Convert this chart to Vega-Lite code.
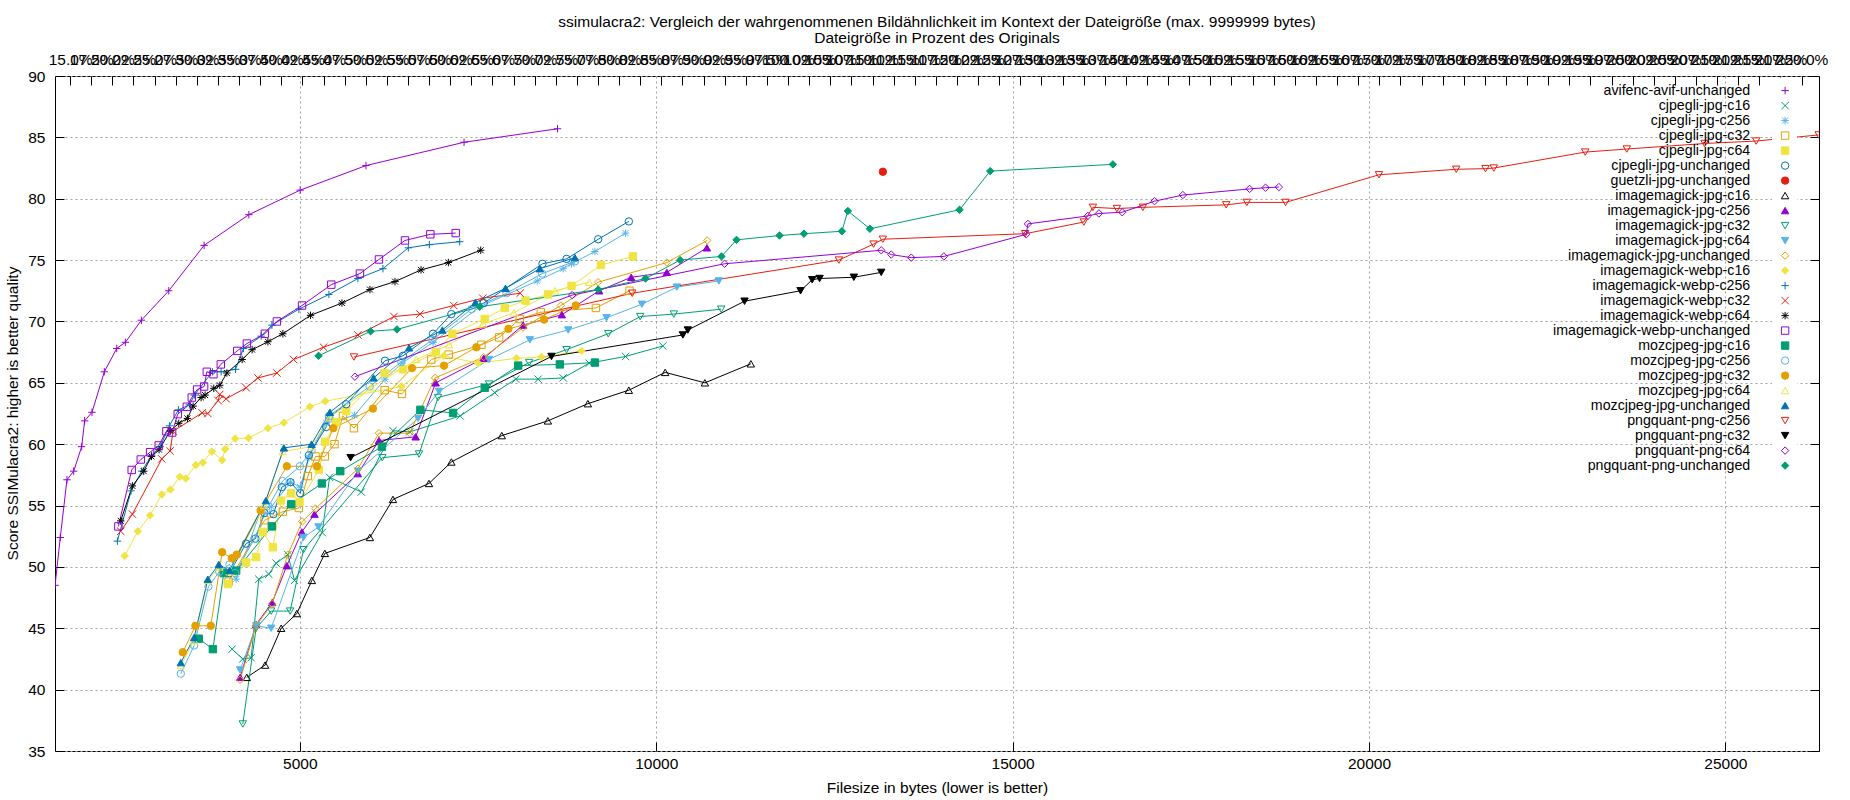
{
  "$schema": "https://vega.github.io/schema/vega-lite/v6.json",
  "width": 1764,
  "height": 675,
  "autosize": {"type": "none"},
  "padding": {"left": 55, "top": 76, "right": 31, "bottom": 49},
  "background": "white",
  "title": {
    "text": "ssimulacra2: Vergleich der wahrgenommenen Bildähnlichkeit im Kontext der Dateigröße (max. 9999999 bytes)",
    "subtitle": "Dateigröße in Prozent des Originals",
    "font": "Liberation Sans", "fontSize": 15.5, "fontWeight": "normal", "color": "black",
    "subtitleFont": "Liberation Sans", "subtitleFontSize": 15.5, "subtitleColor": "black", "subtitlePadding": 0,
    "anchor": "middle", "offset": 6
  },
  "config": {
    "font": "Liberation Sans",
    "view": {"stroke": "black", "strokeWidth": 1},
    "axis": {
      "labelFont": "Liberation Sans", "labelFontSize": 15.5, "labelColor": "black",
      "titleFont": "Liberation Sans", "titleFontSize": 15.5, "titleColor": "black", "titleFontWeight": "normal",
      "domain": false, "tickColor": "black", "tickSize": -9, "tickWidth": 1,
      "gridColor": "#a0a0a0", "gridDash": [2, 3], "gridWidth": 1
    },
    "legend": {
      "labelFont": "Liberation Sans", "labelFontSize": 14.2, "labelColor": "black", "labelLimit": 400,
      "orient": "none", "legendX": 1717, "legendY": 1.5, "title": null, "padding": 6, "fillColor": "white",
      "rowPadding": 0, "symbolSize": 55, "symbolStrokeWidth": 1, "labelAlign": "right", "labelOffset": -42
    }
  },
  "data": {"values": [
    {"s":"avifenc-avif-unchanged","x":1566,"y":48.5},{"s":"avifenc-avif-unchanged","x":1639,"y":52.4},{"s":"avifenc-avif-unchanged","x":1733,"y":57.1},{"s":"avifenc-avif-unchanged","x":1827,"y":57.8},{"s":"avifenc-avif-unchanged","x":1939,"y":59.8},{"s":"avifenc-avif-unchanged","x":1981,"y":61.9},{"s":"avifenc-avif-unchanged","x":2084,"y":62.6},{"s":"avifenc-avif-unchanged","x":2257,"y":65.9},{"s":"avifenc-avif-unchanged","x":2431,"y":67.8},{"s":"avifenc-avif-unchanged","x":2552,"y":68.3},{"s":"avifenc-avif-unchanged","x":2777,"y":70.1},{"s":"avifenc-avif-unchanged","x":3161,"y":72.5},{"s":"avifenc-avif-unchanged","x":3657,"y":76.2},{"s":"avifenc-avif-unchanged","x":4285,"y":78.7},{"s":"avifenc-avif-unchanged","x":5005,"y":80.7},{"s":"avifenc-avif-unchanged","x":5928,"y":82.7},{"s":"avifenc-avif-unchanged","x":7304,"y":84.6},{"s":"avifenc-avif-unchanged","x":8615,"y":85.7},
    {"s":"cjpegli-jpg-c16","x":4050,"y":43.3},{"s":"cjpegli-jpg-c16","x":4200,"y":42.5},{"s":"cjpegli-jpg-c16","x":4317,"y":42.6},{"s":"cjpegli-jpg-c16","x":4424,"y":49.0},{"s":"cjpegli-jpg-c16","x":4565,"y":49.4},{"s":"cjpegli-jpg-c16","x":4668,"y":50.3},{"s":"cjpegli-jpg-c16","x":4832,"y":51.0},{"s":"cjpegli-jpg-c16","x":4925,"y":48.9},{"s":"cjpegli-jpg-c16","x":5314,"y":52.8},{"s":"cjpegli-jpg-c16","x":5417,"y":57.3},{"s":"cjpegli-jpg-c16","x":5862,"y":56.1},{"s":"cjpegli-jpg-c16","x":6307,"y":61.1},{"s":"cjpegli-jpg-c16","x":6541,"y":61.0},{"s":"cjpegli-jpg-c16","x":7250,"y":62.3},{"s":"cjpegli-jpg-c16","x":7735,"y":64.2},{"s":"cjpegli-jpg-c16","x":8030,"y":65.3},{"s":"cjpegli-jpg-c16","x":8344,"y":65.3},{"s":"cjpegli-jpg-c16","x":8695,"y":65.4},{"s":"cjpegli-jpg-c16","x":9060,"y":66.6},{"s":"cjpegli-jpg-c16","x":9570,"y":67.15},{"s":"cjpegli-jpg-c16","x":10093,"y":68.0},
    {"s":"cjpegli-jpg-c256","x":4106,"y":49.0},{"s":"cjpegli-jpg-c256","x":4457,"y":54.7},{"s":"cjpegli-jpg-c256","x":4600,"y":54.9},{"s":"cjpegli-jpg-c256","x":4869,"y":56.9},{"s":"cjpegli-jpg-c256","x":5005,"y":56.5},{"s":"cjpegli-jpg-c256","x":5127,"y":58.9},{"s":"cjpegli-jpg-c256","x":5370,"y":61.7},{"s":"cjpegli-jpg-c256","x":5768,"y":62.35},{"s":"cjpegli-jpg-c256","x":6195,"y":65.3},{"s":"cjpegli-jpg-c256","x":6433,"y":66.6},{"s":"cjpegli-jpg-c256","x":6869,"y":68.3},{"s":"cjpegli-jpg-c256","x":7524,"y":71.2},{"s":"cjpegli-jpg-c256","x":8330,"y":73.3},{"s":"cjpegli-jpg-c256","x":8695,"y":74.3},{"s":"cjpegli-jpg-c256","x":8812,"y":74.7},{"s":"cjpegli-jpg-c256","x":9140,"y":75.7},{"s":"cjpegli-jpg-c256","x":9570,"y":77.2},
    {"s":"cjpegli-jpg-c32","x":4000,"y":48.8},{"s":"cjpegli-jpg-c32","x":4504,"y":53.8},{"s":"cjpegli-jpg-c32","x":4761,"y":54.5},{"s":"cjpegli-jpg-c32","x":4986,"y":54.8},{"s":"cjpegli-jpg-c32","x":5113,"y":57.4},{"s":"cjpegli-jpg-c32","x":5220,"y":59.0},{"s":"cjpegli-jpg-c32","x":5351,"y":59.0},{"s":"cjpegli-jpg-c32","x":5487,"y":60.0},{"s":"cjpegli-jpg-c32","x":5605,"y":62.3},{"s":"cjpegli-jpg-c32","x":5759,"y":61.3},{"s":"cjpegli-jpg-c32","x":6190,"y":64.4},{"s":"cjpegli-jpg-c32","x":6433,"y":64.1},{"s":"cjpegli-jpg-c32","x":6845,"y":66.9},{"s":"cjpegli-jpg-c32","x":7089,"y":67.3},{"s":"cjpegli-jpg-c32","x":7548,"y":68.1},{"s":"cjpegli-jpg-c32","x":7796,"y":68.7},{"s":"cjpegli-jpg-c32","x":8086,"y":70.2},{"s":"cjpegli-jpg-c32","x":8381,"y":70.75},{"s":"cjpegli-jpg-c32","x":9154,"y":71.1},{"s":"cjpegli-jpg-c32","x":9626,"y":72.5},
    {"s":"cjpegli-jpg-c64","x":3990,"y":48.6},{"s":"cjpegli-jpg-c64","x":4246,"y":50.35},{"s":"cjpegli-jpg-c64","x":4387,"y":50.8},{"s":"cjpegli-jpg-c64","x":4480,"y":52.85},{"s":"cjpegli-jpg-c64","x":4621,"y":51.6},{"s":"cjpegli-jpg-c64","x":4738,"y":55.4},{"s":"cjpegli-jpg-c64","x":4879,"y":56.0},{"s":"cjpegli-jpg-c64","x":4996,"y":55.3},{"s":"cjpegli-jpg-c64","x":5267,"y":57.9},{"s":"cjpegli-jpg-c64","x":5356,"y":60.2},{"s":"cjpegli-jpg-c64","x":5511,"y":61.8},{"s":"cjpegli-jpg-c64","x":5651,"y":62.7},{"s":"cjpegli-jpg-c64","x":6190,"y":65.8},{"s":"cjpegli-jpg-c64","x":6447,"y":66.1},{"s":"cjpegli-jpg-c64","x":6906,"y":67.5},{"s":"cjpegli-jpg-c64","x":7140,"y":69.0},{"s":"cjpegli-jpg-c64","x":7594,"y":70.2},{"s":"cjpegli-jpg-c64","x":7875,"y":71.1},{"s":"cjpegli-jpg-c64","x":8166,"y":71.7},{"s":"cjpegli-jpg-c64","x":8484,"y":72.2},{"s":"cjpegli-jpg-c64","x":8812,"y":72.9},{"s":"cjpegli-jpg-c64","x":9224,"y":74.6},{"s":"cjpegli-jpg-c64","x":9672,"y":75.3},
    {"s":"cjpegli-jpg-unchanged","x":4012,"y":49.5},{"s":"cjpegli-jpg-unchanged","x":4246,"y":51.9},{"s":"cjpegli-jpg-unchanged","x":4377,"y":52.3},{"s":"cjpegli-jpg-unchanged","x":4504,"y":54.4},{"s":"cjpegli-jpg-unchanged","x":4630,"y":54.3},{"s":"cjpegli-jpg-unchanged","x":4747,"y":56.5},{"s":"cjpegli-jpg-unchanged","x":4869,"y":56.9},{"s":"cjpegli-jpg-unchanged","x":5005,"y":56.0},{"s":"cjpegli-jpg-unchanged","x":5127,"y":59.1},{"s":"cjpegli-jpg-unchanged","x":5370,"y":61.4},{"s":"cjpegli-jpg-unchanged","x":5412,"y":62.2},{"s":"cjpegli-jpg-unchanged","x":5651,"y":63.25},{"s":"cjpegli-jpg-unchanged","x":6195,"y":66.8},{"s":"cjpegli-jpg-unchanged","x":6447,"y":67.2},{"s":"cjpegli-jpg-unchanged","x":6869,"y":69.0},{"s":"cjpegli-jpg-unchanged","x":7126,"y":70.6},{"s":"cjpegli-jpg-unchanged","x":7580,"y":71.5},{"s":"cjpegli-jpg-unchanged","x":8404,"y":74.7},{"s":"cjpegli-jpg-unchanged","x":8742,"y":75.1},{"s":"cjpegli-jpg-unchanged","x":9186,"y":76.7},{"s":"cjpegli-jpg-unchanged","x":9616,"y":78.15},
    {"s":"guetzli-jpg-unchanged","x":13180,"y":82.2},
    {"s":"imagemagick-jpg-c16","x":4256,"y":41.0},{"s":"imagemagick-jpg-c16","x":4513,"y":42.0},{"s":"imagemagick-jpg-c16","x":4738,"y":45.0},{"s":"imagemagick-jpg-c16","x":4958,"y":46.2},{"s":"imagemagick-jpg-c16","x":5169,"y":48.9},{"s":"imagemagick-jpg-c16","x":5351,"y":51.1},{"s":"imagemagick-jpg-c16","x":5983,"y":52.4},{"s":"imagemagick-jpg-c16","x":6307,"y":55.5},{"s":"imagemagick-jpg-c16","x":6812,"y":56.8},{"s":"imagemagick-jpg-c16","x":7126,"y":58.55},{"s":"imagemagick-jpg-c16","x":7834,"y":60.7},{"s":"imagemagick-jpg-c16","x":8480,"y":61.9},{"s":"imagemagick-jpg-c16","x":9041,"y":63.3},{"s":"imagemagick-jpg-c16","x":9616,"y":64.4},{"s":"imagemagick-jpg-c16","x":10126,"y":65.85},{"s":"imagemagick-jpg-c16","x":10683,"y":65.0},{"s":"imagemagick-jpg-c16","x":11328,"y":66.55},
    {"s":"imagemagick-jpg-c256","x":4162,"y":41.0},{"s":"imagemagick-jpg-c256","x":4387,"y":45.3},{"s":"imagemagick-jpg-c256","x":4612,"y":47.1},{"s":"imagemagick-jpg-c256","x":4818,"y":50.1},{"s":"imagemagick-jpg-c256","x":5028,"y":52.85},{"s":"imagemagick-jpg-c256","x":5206,"y":54.3},{"s":"imagemagick-jpg-c256","x":5815,"y":57.6},{"s":"imagemagick-jpg-c256","x":6110,"y":60.3},{"s":"imagemagick-jpg-c256","x":6625,"y":60.6},{"s":"imagemagick-jpg-c256","x":6906,"y":65.0},{"s":"imagemagick-jpg-c256","x":7580,"y":67.0},{"s":"imagemagick-jpg-c256","x":8133,"y":69.7},{"s":"imagemagick-jpg-c256","x":8676,"y":70.55},{"s":"imagemagick-jpg-c256","x":9200,"y":72.5},{"s":"imagemagick-jpg-c256","x":9649,"y":73.6},{"s":"imagemagick-jpg-c256","x":10149,"y":74.0},{"s":"imagemagick-jpg-c256","x":10711,"y":76.0},
    {"s":"imagemagick-jpg-c32","x":4200,"y":37.2},{"s":"imagemagick-jpg-c32","x":4387,"y":45.0},{"s":"imagemagick-jpg-c32","x":4598,"y":46.4},{"s":"imagemagick-jpg-c32","x":4864,"y":46.4},{"s":"imagemagick-jpg-c32","x":5052,"y":51.4},{"s":"imagemagick-jpg-c32","x":6157,"y":58.9},{"s":"imagemagick-jpg-c32","x":6672,"y":59.2},{"s":"imagemagick-jpg-c32","x":6939,"y":63.8},{"s":"imagemagick-jpg-c32","x":7655,"y":64.9},{"s":"imagemagick-jpg-c32","x":8217,"y":66.65},{"s":"imagemagick-jpg-c32","x":8742,"y":67.7},{"s":"imagemagick-jpg-c32","x":9327,"y":69.0},{"s":"imagemagick-jpg-c32","x":9775,"y":70.4},{"s":"imagemagick-jpg-c32","x":10247,"y":70.6},{"s":"imagemagick-jpg-c32","x":10912,"y":71.0},
    {"s":"imagemagick-jpg-c64","x":4162,"y":41.6},{"s":"imagemagick-jpg-c64","x":4387,"y":45.2},{"s":"imagemagick-jpg-c64","x":4598,"y":45.0},{"s":"imagemagick-jpg-c64","x":5052,"y":52.4},{"s":"imagemagick-jpg-c64","x":5262,"y":53.25},{"s":"imagemagick-jpg-c64","x":5815,"y":57.8},{"s":"imagemagick-jpg-c64","x":6658,"y":62.1},{"s":"imagemagick-jpg-c64","x":6953,"y":64.3},{"s":"imagemagick-jpg-c64","x":7655,"y":66.9},{"s":"imagemagick-jpg-c64","x":8227,"y":68.5},{"s":"imagemagick-jpg-c64","x":8765,"y":69.3},{"s":"imagemagick-jpg-c64","x":9303,"y":70.3},{"s":"imagemagick-jpg-c64","x":9799,"y":71.4},{"s":"imagemagick-jpg-c64","x":10290,"y":72.8},{"s":"imagemagick-jpg-c64","x":10879,"y":73.3},
    {"s":"imagemagick-jpg-unchanged","x":4162,"y":40.8},{"s":"imagemagick-jpg-unchanged","x":4387,"y":45.2},{"s":"imagemagick-jpg-unchanged","x":4612,"y":47.0},{"s":"imagemagick-jpg-unchanged","x":4832,"y":51.0},{"s":"imagemagick-jpg-unchanged","x":5033,"y":53.7},{"s":"imagemagick-jpg-unchanged","x":5220,"y":54.75},{"s":"imagemagick-jpg-unchanged","x":5815,"y":58.0},{"s":"imagemagick-jpg-unchanged","x":6110,"y":60.9},{"s":"imagemagick-jpg-unchanged","x":6541,"y":60.9},{"s":"imagemagick-jpg-unchanged","x":6897,"y":65.4},{"s":"imagemagick-jpg-unchanged","x":7580,"y":67.1},{"s":"imagemagick-jpg-unchanged","x":8133,"y":69.5},{"s":"imagemagick-jpg-unchanged","x":8662,"y":71.3},{"s":"imagemagick-jpg-unchanged","x":9186,"y":73.2},{"s":"imagemagick-jpg-unchanged","x":10149,"y":74.8},{"s":"imagemagick-jpg-unchanged","x":10715,"y":76.6},
    {"s":"imagemagick-webp-c16","x":2543,"y":50.9},{"s":"imagemagick-webp-c16","x":2726,"y":52.9},{"s":"imagemagick-webp-c16","x":2899,"y":54.2},{"s":"imagemagick-webp-c16","x":3063,"y":55.9},{"s":"imagemagick-webp-c16","x":3184,"y":56.3},{"s":"imagemagick-webp-c16","x":3316,"y":57.35},{"s":"imagemagick-webp-c16","x":3400,"y":57.2},{"s":"imagemagick-webp-c16","x":3540,"y":58.3},{"s":"imagemagick-webp-c16","x":3638,"y":58.5},{"s":"imagemagick-webp-c16","x":3765,"y":59.4},{"s":"imagemagick-webp-c16","x":3910,"y":58.7},{"s":"imagemagick-webp-c16","x":3952,"y":59.6},{"s":"imagemagick-webp-c16","x":4093,"y":60.45},{"s":"imagemagick-webp-c16","x":4280,"y":60.5},{"s":"imagemagick-webp-c16","x":4552,"y":61.3},{"s":"imagemagick-webp-c16","x":4776,"y":61.75},{"s":"imagemagick-webp-c16","x":5142,"y":63.05},{"s":"imagemagick-webp-c16","x":5357,"y":63.5},{"s":"imagemagick-webp-c16","x":6424,"y":64.7},{"s":"imagemagick-webp-c16","x":7019,"y":67.2},{"s":"imagemagick-webp-c16","x":7501,"y":66.6},{"s":"imagemagick-webp-c16","x":8039,"y":67.0},{"s":"imagemagick-webp-c16","x":8390,"y":67.1},{"s":"imagemagick-webp-c16","x":8952,"y":67.6},
    {"s":"imagemagick-webp-c256","x":2440,"y":52.1},{"s":"imagemagick-webp-c256","x":2632,"y":56.2},{"s":"imagemagick-webp-c256","x":2782,"y":57.8},{"s":"imagemagick-webp-c256","x":2922,"y":59.1},{"s":"imagemagick-webp-c256","x":3040,"y":59.8},{"s":"imagemagick-webp-c256","x":3170,"y":61.5},{"s":"imagemagick-webp-c256","x":3297,"y":62.8},{"s":"imagemagick-webp-c256","x":3451,"y":63.2},{"s":"imagemagick-webp-c256","x":3520,"y":64.0},{"s":"imagemagick-webp-c256","x":3774,"y":65.9},{"s":"imagemagick-webp-c256","x":3896,"y":65.9},{"s":"imagemagick-webp-c256","x":4097,"y":66.1},{"s":"imagemagick-webp-c256","x":4210,"y":67.8},{"s":"imagemagick-webp-c256","x":4458,"y":68.8},{"s":"imagemagick-webp-c256","x":4608,"y":69.7},{"s":"imagemagick-webp-c256","x":4987,"y":71.0},{"s":"imagemagick-webp-c256","x":5408,"y":72.2},{"s":"imagemagick-webp-c256","x":5815,"y":73.5},{"s":"imagemagick-webp-c256","x":6166,"y":74.3},{"s":"imagemagick-webp-c256","x":6522,"y":76.0},{"s":"imagemagick-webp-c256","x":6817,"y":76.26},{"s":"imagemagick-webp-c256","x":7243,"y":76.5},
    {"s":"imagemagick-webp-c32","x":2487,"y":52.9},{"s":"imagemagick-webp-c32","x":2651,"y":54.3},{"s":"imagemagick-webp-c32","x":3063,"y":58.8},{"s":"imagemagick-webp-c32","x":3180,"y":59.45},{"s":"imagemagick-webp-c32","x":3222,"y":61.05},{"s":"imagemagick-webp-c32","x":3629,"y":62.55},{"s":"imagemagick-webp-c32","x":3709,"y":62.5},{"s":"imagemagick-webp-c32","x":3854,"y":63.55},{"s":"imagemagick-webp-c32","x":3877,"y":64.05},{"s":"imagemagick-webp-c32","x":3966,"y":63.7},{"s":"imagemagick-webp-c32","x":4247,"y":64.6},{"s":"imagemagick-webp-c32","x":4411,"y":65.4},{"s":"imagemagick-webp-c32","x":4678,"y":65.8},{"s":"imagemagick-webp-c32","x":4912,"y":66.9},{"s":"imagemagick-webp-c32","x":5333,"y":67.9},{"s":"imagemagick-webp-c32","x":5815,"y":68.9},{"s":"imagemagick-webp-c32","x":6321,"y":70.4},{"s":"imagemagick-webp-c32","x":6686,"y":70.6},{"s":"imagemagick-webp-c32","x":7159,"y":71.3},{"s":"imagemagick-webp-c32","x":7566,"y":71.9},{"s":"imagemagick-webp-c32","x":8091,"y":72.3},
    {"s":"imagemagick-webp-c64","x":2487,"y":53.75},{"s":"imagemagick-webp-c64","x":2651,"y":56.6},{"s":"imagemagick-webp-c64","x":2810,"y":57.8},{"s":"imagemagick-webp-c64","x":2918,"y":59.0},{"s":"imagemagick-webp-c64","x":3025,"y":59.55},{"s":"imagemagick-webp-c64","x":3184,"y":61.1},{"s":"imagemagick-webp-c64","x":3301,"y":61.7},{"s":"imagemagick-webp-c64","x":3423,"y":62.1},{"s":"imagemagick-webp-c64","x":3503,"y":63.1},{"s":"imagemagick-webp-c64","x":3615,"y":63.8},{"s":"imagemagick-webp-c64","x":3671,"y":64.0},{"s":"imagemagick-webp-c64","x":3793,"y":64.55},{"s":"imagemagick-webp-c64","x":3877,"y":64.8},{"s":"imagemagick-webp-c64","x":3976,"y":65.8},{"s":"imagemagick-webp-c64","x":4191,"y":66.9},{"s":"imagemagick-webp-c64","x":4331,"y":67.7},{"s":"imagemagick-webp-c64","x":4552,"y":68.35},{"s":"imagemagick-webp-c64","x":4762,"y":69.0},{"s":"imagemagick-webp-c64","x":5150,"y":70.5},{"s":"imagemagick-webp-c64","x":5591,"y":71.5},{"s":"imagemagick-webp-c64","x":5984,"y":72.6},{"s":"imagemagick-webp-c64","x":6335,"y":73.25},{"s":"imagemagick-webp-c64","x":6700,"y":74.2},{"s":"imagemagick-webp-c64","x":7084,"y":74.8},{"s":"imagemagick-webp-c64","x":7538,"y":75.8},
    {"s":"imagemagick-webp-unchanged","x":2454,"y":53.3},{"s":"imagemagick-webp-unchanged","x":2641,"y":57.9},{"s":"imagemagick-webp-unchanged","x":2768,"y":58.75},{"s":"imagemagick-webp-unchanged","x":2899,"y":59.35},{"s":"imagemagick-webp-unchanged","x":3020,"y":59.9},{"s":"imagemagick-webp-unchanged","x":3128,"y":61.05},{"s":"imagemagick-webp-unchanged","x":3208,"y":60.95},{"s":"imagemagick-webp-unchanged","x":3287,"y":62.45},{"s":"imagemagick-webp-unchanged","x":3414,"y":63.05},{"s":"imagemagick-webp-unchanged","x":3484,"y":63.8},{"s":"imagemagick-webp-unchanged","x":3559,"y":64.45},{"s":"imagemagick-webp-unchanged","x":3657,"y":64.7},{"s":"imagemagick-webp-unchanged","x":3695,"y":65.9},{"s":"imagemagick-webp-unchanged","x":3788,"y":65.7},{"s":"imagemagick-webp-unchanged","x":3891,"y":66.5},{"s":"imagemagick-webp-unchanged","x":4121,"y":67.6},{"s":"imagemagick-webp-unchanged","x":4257,"y":68.2},{"s":"imagemagick-webp-unchanged","x":4509,"y":69.0},{"s":"imagemagick-webp-unchanged","x":4678,"y":70.0},{"s":"imagemagick-webp-unchanged","x":5031,"y":71.3},{"s":"imagemagick-webp-unchanged","x":5441,"y":73.0},{"s":"imagemagick-webp-unchanged","x":5843,"y":73.9},{"s":"imagemagick-webp-unchanged","x":6110,"y":75.05},{"s":"imagemagick-webp-unchanged","x":6475,"y":76.6},{"s":"imagemagick-webp-unchanged","x":6831,"y":77.1},{"s":"imagemagick-webp-unchanged","x":7187,"y":77.2},
    {"s":"mozcjpeg-jpg-c16","x":3582,"y":44.15},{"s":"mozcjpeg-jpg-c16","x":3780,"y":43.3},{"s":"mozcjpeg-jpg-c16","x":3933,"y":49.5},{"s":"mozcjpeg-jpg-c16","x":4107,"y":49.7},{"s":"mozcjpeg-jpg-c16","x":4607,"y":53.3},{"s":"mozcjpeg-jpg-c16","x":4879,"y":55.1},{"s":"mozcjpeg-jpg-c16","x":5309,"y":56.8},{"s":"mozcjpeg-jpg-c16","x":5567,"y":57.8},{"s":"mozcjpeg-jpg-c16","x":6152,"y":59.8},{"s":"mozcjpeg-jpg-c16","x":6691,"y":62.8},{"s":"mozcjpeg-jpg-c16","x":7150,"y":62.55},{"s":"mozcjpeg-jpg-c16","x":7595,"y":64.6},{"s":"mozcjpeg-jpg-c16","x":8063,"y":66.4},{"s":"mozcjpeg-jpg-c16","x":8648,"y":66.5},{"s":"mozcjpeg-jpg-c16","x":9140,"y":66.65},
    {"s":"mozcjpeg-jpg-c256","x":3330,"y":41.3},{"s":"mozcjpeg-jpg-c256","x":3517,"y":43.6},{"s":"mozcjpeg-jpg-c256","x":3718,"y":48.4},{"s":"mozcjpeg-jpg-c256","x":3870,"y":49.6},{"s":"mozcjpeg-jpg-c256","x":4013,"y":50.2},{"s":"mozcjpeg-jpg-c256","x":4093,"y":49.5},{"s":"mozcjpeg-jpg-c256","x":4364,"y":52.3},{"s":"mozcjpeg-jpg-c256","x":4530,"y":54.6},{"s":"mozcjpeg-jpg-c256","x":4760,"y":57.0},{"s":"mozcjpeg-jpg-c256","x":5000,"y":58.2},{"s":"mozcjpeg-jpg-c256","x":5165,"y":59.5},{"s":"mozcjpeg-jpg-c256","x":5408,"y":62.3},{"s":"mozcjpeg-jpg-c256","x":5979,"y":64.7},{"s":"mozcjpeg-jpg-c256","x":6424,"y":66.7},{"s":"mozcjpeg-jpg-c256","x":6859,"y":68.5},{"s":"mozcjpeg-jpg-c256","x":7407,"y":71.0},{"s":"mozcjpeg-jpg-c256","x":7900,"y":72.3},{"s":"mozcjpeg-jpg-c256","x":8400,"y":73.9},{"s":"mozcjpeg-jpg-c256","x":8860,"y":74.9},
    {"s":"mozcjpeg-jpg-c32","x":3358,"y":43.05},{"s":"mozcjpeg-jpg-c32","x":3535,"y":45.2},{"s":"mozcjpeg-jpg-c32","x":3751,"y":45.2},{"s":"mozcjpeg-jpg-c32","x":3910,"y":51.2},{"s":"mozcjpeg-jpg-c32","x":4045,"y":50.7},{"s":"mozcjpeg-jpg-c32","x":4115,"y":51.0},{"s":"mozcjpeg-jpg-c32","x":4450,"y":54.6},{"s":"mozcjpeg-jpg-c32","x":4818,"y":58.2},{"s":"mozcjpeg-jpg-c32","x":5240,"y":58.2},{"s":"mozcjpeg-jpg-c32","x":5469,"y":61.3},{"s":"mozcjpeg-jpg-c32","x":6026,"y":62.9},{"s":"mozcjpeg-jpg-c32","x":6574,"y":66.2},{"s":"mozcjpeg-jpg-c32","x":7023,"y":66.4},{"s":"mozcjpeg-jpg-c32","x":7477,"y":67.9},{"s":"mozcjpeg-jpg-c32","x":7927,"y":69.4},{"s":"mozcjpeg-jpg-c32","x":8428,"y":70.15},{"s":"mozcjpeg-jpg-c32","x":8872,"y":71.3},
    {"s":"mozcjpeg-jpg-c64","x":3333,"y":42.0},{"s":"mozcjpeg-jpg-c64","x":3517,"y":44.0},{"s":"mozcjpeg-jpg-c64","x":3709,"y":48.9},{"s":"mozcjpeg-jpg-c64","x":3870,"y":50.0},{"s":"mozcjpeg-jpg-c64","x":4013,"y":49.6},{"s":"mozcjpeg-jpg-c64","x":4500,"y":55.0},{"s":"mozcjpeg-jpg-c64","x":4760,"y":59.4},{"s":"mozcjpeg-jpg-c64","x":5165,"y":59.8},{"s":"mozcjpeg-jpg-c64","x":5420,"y":62.2},{"s":"mozcjpeg-jpg-c64","x":6000,"y":64.6},{"s":"mozcjpeg-jpg-c64","x":6635,"y":66.9},{"s":"mozcjpeg-jpg-c64","x":7093,"y":68.1},{"s":"mozcjpeg-jpg-c64","x":7571,"y":69.8},{"s":"mozcjpeg-jpg-c64","x":8002,"y":70.7},{"s":"mozcjpeg-jpg-c64","x":8578,"y":72.5},{"s":"mozcjpeg-jpg-c64","x":9060,"y":73.2},
    {"s":"mozcjpeg-jpg-unchanged","x":3330,"y":42.2},{"s":"mozcjpeg-jpg-unchanged","x":3517,"y":44.25},{"s":"mozcjpeg-jpg-unchanged","x":3709,"y":49.0},{"s":"mozcjpeg-jpg-unchanged","x":3863,"y":50.2},{"s":"mozcjpeg-jpg-unchanged","x":4013,"y":49.7},{"s":"mozcjpeg-jpg-unchanged","x":4523,"y":55.4},{"s":"mozcjpeg-jpg-unchanged","x":4776,"y":59.7},{"s":"mozcjpeg-jpg-unchanged","x":5165,"y":60.0},{"s":"mozcjpeg-jpg-unchanged","x":5422,"y":62.6},{"s":"mozcjpeg-jpg-unchanged","x":6035,"y":65.4},{"s":"mozcjpeg-jpg-unchanged","x":6532,"y":67.85},{"s":"mozcjpeg-jpg-unchanged","x":7000,"y":69.3},{"s":"mozcjpeg-jpg-unchanged","x":7463,"y":71.55},{"s":"mozcjpeg-jpg-unchanged","x":7885,"y":72.7},{"s":"mozcjpeg-jpg-unchanged","x":8367,"y":74.3},{"s":"mozcjpeg-jpg-unchanged","x":8859,"y":75.2},
    {"s":"pngquant-png-c256","x":5759,"y":67.1},{"s":"pngquant-png-c256","x":9663,"y":72.3},{"s":"pngquant-png-c256","x":12563,"y":75.0},{"s":"pngquant-png-c256","x":13049,"y":76.3},{"s":"pngquant-png-c256","x":13180,"y":76.7},{"s":"pngquant-png-c256","x":15177,"y":77.15},{"s":"pngquant-png-c256","x":16000,"y":78.1},{"s":"pngquant-png-c256","x":16127,"y":79.3},{"s":"pngquant-png-c256","x":16463,"y":79.2},{"s":"pngquant-png-c256","x":16828,"y":79.3},{"s":"pngquant-png-c256","x":17997,"y":79.5},{"s":"pngquant-png-c256","x":18287,"y":79.7},{"s":"pngquant-png-c256","x":18830,"y":79.7},{"s":"pngquant-png-c256","x":20140,"y":81.95},{"s":"pngquant-png-c256","x":21224,"y":82.4},{"s":"pngquant-png-c256","x":21635,"y":82.45},{"s":"pngquant-png-c256","x":21752,"y":82.5},{"s":"pngquant-png-c256","x":23034,"y":83.8},{"s":"pngquant-png-c256","x":23618,"y":84.05},{"s":"pngquant-png-c256","x":24708,"y":84.5},{"s":"pngquant-png-c256","x":25433,"y":84.7},{"s":"pngquant-png-c256","x":26310,"y":85.2},
    {"s":"pngquant-png-c32","x":5712,"y":58.9},{"s":"pngquant-png-c32","x":8531,"y":67.15},{"s":"pngquant-png-c32","x":10374,"y":68.9},{"s":"pngquant-png-c32","x":10444,"y":69.3},{"s":"pngquant-png-c32","x":11239,"y":71.65},{"s":"pngquant-png-c32","x":12025,"y":72.5},{"s":"pngquant-png-c32","x":12189,"y":73.4},{"s":"pngquant-png-c32","x":12292,"y":73.5},{"s":"pngquant-png-c32","x":12773,"y":73.6},{"s":"pngquant-png-c32","x":13157,"y":74.0},
    {"s":"pngquant-png-c64","x":5773,"y":65.5},{"s":"pngquant-png-c64","x":8821,"y":72.15},{"s":"pngquant-png-c64","x":10959,"y":74.7},{"s":"pngquant-png-c64","x":13157,"y":75.8},{"s":"pngquant-png-c64","x":13297,"y":75.45},{"s":"pngquant-png-c64","x":13578,"y":75.2},{"s":"pngquant-png-c64","x":14036,"y":75.3},{"s":"pngquant-png-c64","x":15191,"y":77.1},{"s":"pngquant-png-c64","x":15215,"y":77.95},{"s":"pngquant-png-c64","x":16056,"y":78.6},{"s":"pngquant-png-c64","x":16211,"y":78.8},{"s":"pngquant-png-c64","x":16538,"y":78.9},{"s":"pngquant-png-c64","x":16992,"y":79.8},{"s":"pngquant-png-c64","x":17389,"y":80.3},{"s":"pngquant-png-c64","x":18325,"y":80.8},{"s":"pngquant-png-c64","x":18549,"y":80.9},{"s":"pngquant-png-c64","x":18736,"y":80.95},
    {"s":"pngquant-png-unchanged","x":5263,"y":67.2},{"s":"pngquant-png-unchanged","x":5993,"y":69.2},{"s":"pngquant-png-unchanged","x":6363,"y":69.35},{"s":"pngquant-png-unchanged","x":7524,"y":71.2},{"s":"pngquant-png-unchanged","x":9186,"y":72.6},{"s":"pngquant-png-unchanged","x":9850,"y":73.5},{"s":"pngquant-png-unchanged","x":10336,"y":75.0},{"s":"pngquant-png-unchanged","x":10916,"y":75.3},{"s":"pngquant-png-unchanged","x":11127,"y":76.65},{"s":"pngquant-png-unchanged","x":11730,"y":77.0},{"s":"pngquant-png-unchanged","x":12072,"y":77.15},{"s":"pngquant-png-unchanged","x":12605,"y":77.35},{"s":"pngquant-png-unchanged","x":12689,"y":79.0},{"s":"pngquant-png-unchanged","x":12998,"y":77.55},{"s":"pngquant-png-unchanged","x":14256,"y":79.1},{"s":"pngquant-png-unchanged","x":14686,"y":82.25},{"s":"pngquant-png-unchanged","x":16407,"y":82.8}
  ]},
  "layer": [
    {
      "layer": [
        {
          "mark": {"type": "line", "strokeWidth": 1, "clip": true},
          "encoding": {
            "stroke": {"field": "s", "type": "nominal"}
          }
        },
        {
          "mark": {"type": "point", "size": 55, "strokeWidth": 1, "opacity": 1, "clip": true},
          "encoding": {
            "stroke": {"field": "s", "type": "nominal"},
            "fill": {"field": "s", "type": "nominal",
              "scale": {
                "domain": ["avifenc-avif-unchanged","cjpegli-jpg-c16","cjpegli-jpg-c256","cjpegli-jpg-c32","cjpegli-jpg-c64","cjpegli-jpg-unchanged","guetzli-jpg-unchanged","imagemagick-jpg-c16","imagemagick-jpg-c256","imagemagick-jpg-c32","imagemagick-jpg-c64","imagemagick-jpg-unchanged","imagemagick-webp-c16","imagemagick-webp-c256","imagemagick-webp-c32","imagemagick-webp-c64","imagemagick-webp-unchanged","mozcjpeg-jpg-c16","mozcjpeg-jpg-c256","mozcjpeg-jpg-c32","mozcjpeg-jpg-c64","mozcjpeg-jpg-unchanged","pngquant-png-c256","pngquant-png-c32","pngquant-png-c64","pngquant-png-unchanged"],
                "range": ["transparent","transparent","transparent","transparent","#f0e442","transparent","#e51e10","transparent","#9400d3","transparent","#56b4e9","transparent","#f0e442","transparent","transparent","transparent","transparent","#009e73","transparent","#e69f00","transparent","#0072b2","transparent","#000000","transparent","#009e73"]
              }
            },
            "shape": {"field": "s", "type": "nominal",
              "scale": {
                "domain": ["avifenc-avif-unchanged","cjpegli-jpg-c16","cjpegli-jpg-c256","cjpegli-jpg-c32","cjpegli-jpg-c64","cjpegli-jpg-unchanged","guetzli-jpg-unchanged","imagemagick-jpg-c16","imagemagick-jpg-c256","imagemagick-jpg-c32","imagemagick-jpg-c64","imagemagick-jpg-unchanged","imagemagick-webp-c16","imagemagick-webp-c256","imagemagick-webp-c32","imagemagick-webp-c64","imagemagick-webp-unchanged","mozcjpeg-jpg-c16","mozcjpeg-jpg-c256","mozcjpeg-jpg-c32","mozcjpeg-jpg-c64","mozcjpeg-jpg-unchanged","pngquant-png-c256","pngquant-png-c32","pngquant-png-c64","pngquant-png-unchanged"],
                "range": ["M-1,0H1M0,-1V1","M-1,-1L1,1M-1,1L1,-1","M-1,0H1M0,-1V1M-0.8,-0.8L0.8,0.8M-0.8,0.8L0.8,-0.8","square","square","circle","circle","triangle-up","triangle-up","triangle-down","triangle-down","diamond","diamond","M-1,0H1M0,-1V1","M-1,-1L1,1M-1,1L1,-1","M-1,0H1M0,-1V1M-0.8,-0.8L0.8,0.8M-0.8,0.8L0.8,-0.8","square","square","circle","circle","triangle-up","triangle-up","triangle-down","triangle-down","diamond","diamond"]
              }
            }
          }
        }
      ],
      "encoding": {
        "x": {"field": "x", "type": "quantitative",
          "scale": {"domain": [1565, 26314], "nice": false, "zero": false},
          "axis": {"values": [5000, 10000, 15000, 20000, 25000], "format": "d", "grid": true, "labelPadding": 14.5,
            "title": "Filesize in bytes (lower is better)", "titleY": 36, "titleBaseline": "middle"}},
        "y": {"field": "y", "type": "quantitative",
          "scale": {"domain": [35, 90], "nice": false, "zero": false},
          "axis": {"values": [35, 40, 45, 50, 55, 60, 65, 70, 75, 80, 85, 90], "grid": true, "labelPadding": 19,
            "title": "Score SSIMulacra2: higher is better quality", "titleX": -43, "titleY": 337, "titleBaseline": "middle"}},
        "stroke": {"field": "s", "type": "nominal",
          "scale": {
            "domain": ["avifenc-avif-unchanged","cjpegli-jpg-c16","cjpegli-jpg-c256","cjpegli-jpg-c32","cjpegli-jpg-c64","cjpegli-jpg-unchanged","guetzli-jpg-unchanged","imagemagick-jpg-c16","imagemagick-jpg-c256","imagemagick-jpg-c32","imagemagick-jpg-c64","imagemagick-jpg-unchanged","imagemagick-webp-c16","imagemagick-webp-c256","imagemagick-webp-c32","imagemagick-webp-c64","imagemagick-webp-unchanged","mozcjpeg-jpg-c16","mozcjpeg-jpg-c256","mozcjpeg-jpg-c32","mozcjpeg-jpg-c64","mozcjpeg-jpg-unchanged","pngquant-png-c256","pngquant-png-c32","pngquant-png-c64","pngquant-png-unchanged"],
            "range": ["#9400d3","#009e73","#56b4e9","#e69f00","#f0e442","#0072b2","#e51e10","#000000","#9400d3","#009e73","#56b4e9","#e69f00","#f0e442","#0072b2","#e51e10","#000000","#9400d3","#009e73","#56b4e9","#e69f00","#f0e442","#0072b2","#e51e10","#000000","#9400d3","#009e73"]
          }
        }
      }
    },
    {
      "mark": {"type": "rule", "strokeOpacity": 0},
      "encoding": {
        "x": {"datum": 15, "type": "quantitative",
          "scale": {"domain": [13.207, 222.06], "nice": false, "zero": false},
          "axis": {"orient": "top", "title": null, "grid": false, "labelOverlap": false, "labelBound": false, "labelFlush": false, "labelPadding": 17.7,
            "values": [15,17.5,20,22.5,25,27.5,30,32.5,35,37.5,40,42.5,45,47.5,50,52.5,55,57.5,60,62.5,65,67.5,70,72.5,75,77.5,80,82.5,85,87.5,90,92.5,95,97.5,100,102.5,105,107.5,110,112.5,115,117.5,120,122.5,125,127.5,130,132.5,135,137.5,140,142.5,145,147.5,150,152.5,155,157.5,160,162.5,165,167.5,170,172.5,175,177.5,180,182.5,185,187.5,190,192.5,195,197.5,200,202.5,205,207.5,210,212.5,215,217.5,220],
            "labelExpr": "format(datum.value, '.1f') + '%'"}}
      }
    },
    {
      "mark": {"type": "rule", "strokeOpacity": 0},
      "encoding": {
        "y": {"datum": 50, "type": "quantitative",
          "scale": {"domain": [35, 90], "nice": false, "zero": false},
          "axis": {"orient": "right", "title": null, "grid": false, "labels": false,
            "values": [35, 40, 45, 50, 55, 60, 65, 70, 75, 80, 85, 90]}}
      }
    }
  ],
  "resolve": {"scale": {"x": "independent", "y": "independent"}}
}
